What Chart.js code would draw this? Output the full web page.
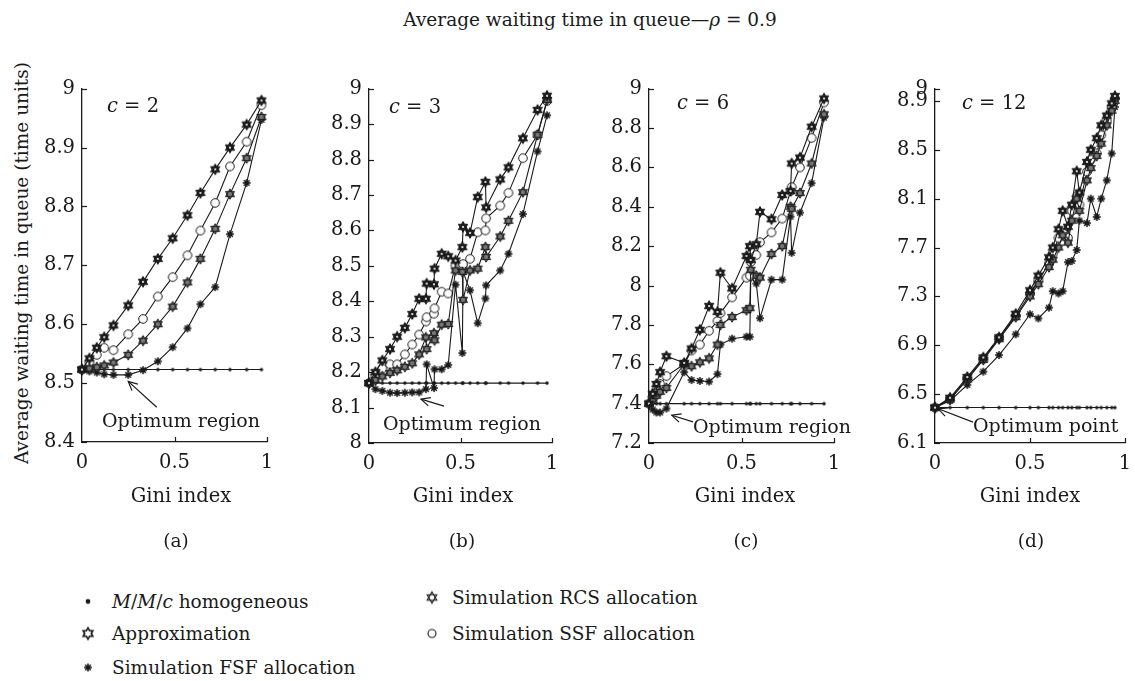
<!DOCTYPE html>
<html lang="en">
<head>
<meta charset="utf-8">
<title>Average waiting time in queue</title>
<script src="https://cdn.jsdelivr.net/npm/chart.js@4.4.1/dist/chart.umd.min.js"></script>
<style>
  html, body { margin: 0; padding: 0; background: #fff; }
  #page { position: relative; width: 1135px; height: 681px; overflow: hidden; font-family: 'DejaVu Serif', serif; color: #1a1a1a; }
  #page canvas.panel { position: absolute; }
  .txt { position: absolute; white-space: nowrap; line-height: 1; font-family: 'DejaVu Serif', serif; }
  .mid { transform: translate(-50%, -50%); }
  .lft { transform: translateY(-50%); }
  .ylab { position: absolute; left: 22px; top: 263px; transform: translate(-50%, -50%) rotate(-90deg); font-size: 18.5px; white-space: nowrap; line-height: 1; }
  .legend-row { position: absolute; display: flex; align-items: center; font-size: 18.5px; font-family: 'DejaVu Serif', serif; transform: translateY(-50%); white-space: nowrap; }
</style>
</head>
<body>
<div id="page">
  <div class="txt mid" style="left:590px; top:20px; font-size:18.5px;">Average waiting time in queue—<i>ρ</i> = 0.9</div>
  <div class="ylab">Average waiting time in queue (time units)</div>
</div>

<script>
// Axis ticks
const giniTicks = [0, 0.5, 1];
const ticksA = [8.4, 8.5, 8.6, 8.7, 8.8, 8.9, 9];
const ticksB = [8, 8.1, 8.2, 8.3, 8.4, 8.5, 8.6, 8.7, 8.8, 8.9, 9];
const ticksC = [7.2, 7.4, 7.6, 7.8, 8, 8.2, 8.4, 8.6, 8.8, 9];
const ticksD = [6.1, 6.5, 6.9, 7.3, 7.7, 8.1, 8.5, 8.9, 9];

// c = 2
const giniA   = [0, 0.04, 0.08, 0.12, 0.17, 0.25, 0.33, 0.41, 0.49, 0.57, 0.64, 0.72, 0.80, 0.89, 0.97];
const mmcA    = [8.523, 8.523, 8.523, 8.523, 8.523, 8.523, 8.523, 8.523, 8.523, 8.523, 8.523, 8.523, 8.523, 8.523, 8.523];
const approxA = [8.523, 8.542, 8.560, 8.578, 8.598, 8.632, 8.672, 8.711, 8.746, 8.785, 8.823, 8.863, 8.900, 8.939, 8.980];
const ssfA    = [8.523, 8.535, 8.548, 8.560, 8.556, 8.583, 8.609, 8.647, 8.680, 8.717, 8.759, 8.806, 8.868, 8.910, 8.972];
const rcsA    = [8.523, 8.525, 8.527, 8.530, 8.535, 8.548, 8.572, 8.600, 8.630, 8.671, 8.711, 8.762, 8.821, 8.882, 8.952];
const fsfA    = [8.523, 8.520, 8.518, 8.515, 8.514, 8.514, 8.522, 8.537, 8.561, 8.593, 8.634, 8.663, 8.753, 8.840, 8.947];

// c = 3
const giniB   = [0, 0.035, 0.073, 0.115, 0.154, 0.196, 0.236, 0.274, 0.311, 0.315, 0.355, 0.358, 0.397, 0.433, 0.473, 0.51, 0.514, 0.552, 0.594, 0.636, 0.64, 0.717, 0.762, 0.841, 0.921, 0.973];
const mmcB    = [8.169, 8.169, 8.169, 8.169, 8.169, 8.169, 8.169, 8.169, 8.169, 8.169, 8.169, 8.169, 8.169, 8.169, 8.169, 8.169, 8.169, 8.169, 8.169, 8.169, 8.169, 8.169, 8.169, 8.169, 8.169, 8.169];
const approxB = [8.169, 8.20, 8.233, 8.265, 8.30, 8.325, 8.364, 8.407, 8.407, 8.45, 8.448, 8.492, 8.534, 8.527, 8.515, 8.553, 8.61, 8.593, 8.694, 8.737, 8.665, 8.744, 8.778, 8.86, 8.94, 8.98];
const ssfB    = [8.169, 8.19, 8.21, 8.222, 8.222, 8.25, 8.278, 8.306, 8.343, 8.355, 8.365, 8.38, 8.427, 8.422, 8.501, 8.50, 8.505, 8.52, 8.595, 8.60, 8.634, 8.67, 8.706, 8.804, 8.87, 8.965];
const rcsB    = [8.169, 8.178, 8.188, 8.198, 8.205, 8.215, 8.225, 8.25, 8.298, 8.265, 8.31, 8.29, 8.334, 8.336, 8.487, 8.483, 8.404, 8.487, 8.492, 8.553, 8.525, 8.583, 8.627, 8.708, 8.87, 8.968];
const fsfB    = [8.169, 8.152, 8.147, 8.142, 8.141, 8.142, 8.143, 8.143, 8.152, 8.222, 8.155, 8.208, 8.208, 8.22, 8.447, 8.254, 8.483, 8.431, 8.338, 8.408, 8.445, 8.487, 8.534, 8.646, 8.823, 8.925];

// c = 6
const giniC   = [0, 0.02, 0.04, 0.06, 0.094, 0.19, 0.23, 0.275, 0.325, 0.37, 0.386, 0.449, 0.527, 0.545, 0.55, 0.58, 0.6, 0.662, 0.72, 0.765, 0.771, 0.816, 0.879, 0.946];
const mmcC    = [7.40, 7.40, 7.40, 7.40, 7.40, 7.40, 7.40, 7.40, 7.40, 7.40, 7.40, 7.40, 7.40, 7.40, 7.40, 7.40, 7.40, 7.40, 7.40, 7.40, 7.40, 7.40, 7.40, 7.40];
const approxC = [7.40, 7.45, 7.50, 7.56, 7.641, 7.607, 7.68, 7.775, 7.896, 7.866, 8.065, 7.985, 8.15, 8.20, 8.13, 8.21, 8.374, 8.337, 8.46, 8.48, 8.62, 8.65, 8.807, 8.95];
const ssfC    = [7.40, 7.43, 7.47, 7.50, 7.54, 7.60, 7.67, 7.70, 7.77, 7.82, 7.86, 7.94, 8.04, 8.05, 8.12, 8.155, 8.22, 8.27, 8.34, 8.48, 8.50, 8.60, 8.75, 8.93];
const rcsC    = [7.40, 7.42, 7.44, 7.46, 7.48, 7.60, 7.59, 7.61, 7.63, 7.70, 7.80, 7.84, 7.875, 7.885, 8.08, 8.05, 8.04, 8.16, 8.20, 8.40, 8.39, 8.47, 8.62, 8.87];
const fsfC    = [7.40, 7.37, 7.355, 7.355, 7.375, 7.56, 7.52, 7.515, 7.512, 7.55, 7.70, 7.73, 7.74, 7.74, 8.04, 8.01, 7.834, 8.03, 8.03, 8.35, 8.166, 8.37, 8.52, 8.853];

// c = 12
const giniD   = [0, 0.079, 0.17, 0.254, 0.337, 0.425, 0.5, 0.544, 0.6, 0.62, 0.65, 0.672, 0.70, 0.72, 0.746, 0.76, 0.80, 0.82, 0.851, 0.875, 0.904, 0.93, 0.947];
const mmcD    = [6.39, 6.39, 6.39, 6.39, 6.39, 6.39, 6.39, 6.39, 6.39, 6.39, 6.39, 6.39, 6.39, 6.39, 6.39, 6.39, 6.39, 6.39, 6.39, 6.39, 6.39, 6.39, 6.39];
const approxD = [6.39, 6.47, 6.64, 6.80, 6.965, 7.157, 7.35, 7.47, 7.62, 7.70, 7.85, 8.0, 7.87, 8.05, 8.324, 8.15, 8.40, 8.50, 8.595, 8.70, 8.78, 8.88, 8.94];
const ssfD    = [6.39, 6.46, 6.63, 6.79, 6.96, 7.14, 7.32, 7.43, 7.57, 7.65, 7.78, 7.82, 7.78, 8.0, 8.12, 8.05, 8.32, 8.42, 8.47, 8.62, 8.74, 8.85, 8.92];
const rcsD    = [6.39, 6.455, 6.62, 6.78, 6.95, 7.13, 7.30, 7.40, 7.54, 7.60, 7.70, 7.80, 7.74, 7.92, 8.10, 8.00, 8.25, 8.35, 8.45, 8.55, 8.70, 8.82, 8.90];
const fsfD    = [6.39, 6.446, 6.576, 6.684, 6.82, 6.99, 7.154, 7.12, 7.208, 7.343, 7.324, 7.343, 7.58, 7.59, 7.68, 7.92, 7.90, 8.10, 7.95, 8.10, 8.25, 8.47, 8.85];

const INK = '#1a1a1a';
const FONT = "'DejaVu Serif', serif";

// Marker glyphs drawn once on small canvases
function glyph(size, draw) {
    const c = document.createElement('canvas');
    c.width = size;
    c.height = size;
    const ctx = c.getContext('2d');
    ctx.translate(size / 2, size / 2);
    ctx.strokeStyle = INK;
    ctx.fillStyle = INK;
    draw(ctx);
    return c;
}

function starOutline(ctx, r) {
    const inner = r / Math.sqrt(3);
    ctx.beginPath();
    for (let i = 0; i < 12; i++) {
        const a = -Math.PI / 2 + i * Math.PI / 6;
        const rr = i % 2 === 0 ? r : inner;
        ctx.lineTo(rr * Math.cos(a), rr * Math.sin(a));
    }
    ctx.closePath();
}

function triangle(ctx, r, start) {
    ctx.beginPath();
    for (let i = 0; i < 3; i++) {
        const a = start + i * 2 * Math.PI / 3;
        ctx.lineTo(r * Math.cos(a), r * Math.sin(a));
    }
    ctx.closePath();
}

// plot markers: small and dark; legend markers: outlined
const markers = {
    approx: glyph(14, ctx => {
        starOutline(ctx, 5.4);
        ctx.fill();
        ctx.lineWidth = 1;
        ctx.stroke();
        ctx.beginPath();
        ctx.arc(0, 0, 1.1, 0, Math.PI * 2);
        ctx.fillStyle = '#fff';
        ctx.fill();
    }),
    rcs: glyph(14, ctx => {
        ctx.lineWidth = 1;
        starOutline(ctx, 5.2);
        ctx.fillStyle = '#777';
        ctx.fill();
        triangle(ctx, 5.2, -Math.PI / 2);
        ctx.stroke();
        triangle(ctx, 5.2, Math.PI / 2);
        ctx.stroke();
    }),
    fsf: glyph(12, ctx => {
        ctx.lineWidth = 1.5;
        for (let i = 0; i < 4; i++) {
            const a = i * Math.PI / 4;
            ctx.beginPath();
            ctx.moveTo(-4 * Math.cos(a), -4 * Math.sin(a));
            ctx.lineTo(4 * Math.cos(a), 4 * Math.sin(a));
            ctx.stroke();
        }
        ctx.beginPath();
        ctx.arc(0, 0, 2.3, 0, Math.PI * 2);
        ctx.fill();
    }),
    ssf: glyph(12, ctx => {
        ctx.lineWidth = 1;
        ctx.beginPath();
        ctx.arc(0, 0, 4.3, 0, Math.PI * 2);
        ctx.fillStyle = '#fff';
        ctx.fill();
        ctx.stroke();
    }),
    mmc: glyph(6, ctx => {
        ctx.beginPath();
        ctx.arc(0, 0, 1.7, 0, Math.PI * 2);
        ctx.fill();
    })
};

const legendMarkers = {
    mmc: glyph(8, ctx => {
        ctx.beginPath();
        ctx.arc(0, 0, 2.4, 0, Math.PI * 2);
        ctx.fill();
    }),
    approx: glyph(14, ctx => {
        ctx.lineWidth = 1.6;
        starOutline(ctx, 5.6);
        ctx.fillStyle = '#fff';
        ctx.fill();
        ctx.stroke();
    }),
    fsf: markers.fsf,
    rcs: glyph(14, ctx => {
        ctx.lineWidth = 1.1;
        starOutline(ctx, 5.6);
        ctx.fillStyle = '#fff';
        ctx.fill();
        triangle(ctx, 5.6, -Math.PI / 2);
        ctx.stroke();
        triangle(ctx, 5.6, Math.PI / 2);
        ctx.stroke();
    }),
    ssf: glyph(12, ctx => {
        ctx.lineWidth = 1.1;
        ctx.beginPath();
        ctx.arc(0, 0, 4, 0, Math.PI * 2);
        ctx.stroke();
    })
};

// Small inward tick marks on both axes
const innerTicks = {
    id: 'innerTicks',
    afterDraw(chart) {
        const { ctx, chartArea, scales } = chart;
        ctx.save();
        ctx.strokeStyle = INK;
        ctx.lineWidth = 1.2;
        scales.y.ticks.forEach(t => {
            const py = Math.round(scales.y.getPixelForValue(t.value)) + 0.5;
            ctx.beginPath();
            ctx.moveTo(chartArea.left, py);
            ctx.lineTo(chartArea.left + 5, py);
            ctx.stroke();
        });
        scales.x.ticks.forEach(t => {
            if (t.value === 0) return;
            const px = Math.round(scales.x.getPixelForValue(t.value)) + 0.5;
            ctx.beginPath();
            ctx.moveTo(px, chartArea.bottom);
            ctx.lineTo(px, chartArea.bottom - 5);
            ctx.stroke();
        });
        ctx.restore();
    }
};

// Arrow pointing at the optimum, given in data units
const pointer = {
    id: 'pointer',
    afterDatasetsDraw(chart, args, opts) {
        if (!opts.head) return;
        const { ctx, scales } = chart;
        const hx = scales.x.getPixelForValue(opts.head[0]);
        const hy = scales.y.getPixelForValue(opts.head[1]);
        const tx = scales.x.getPixelForValue(opts.tail[0]);
        const ty = scales.y.getPixelForValue(opts.tail[1]);
        const ang = Math.atan2(ty - hy, tx - hx);
        ctx.save();
        ctx.strokeStyle = INK;
        ctx.lineWidth = 1.2;
        ctx.beginPath();
        ctx.moveTo(tx, ty);
        ctx.lineTo(hx, hy);
        ctx.stroke();
        ctx.beginPath();
        ctx.moveTo(hx + 10 * Math.cos(ang - 0.45), hy + 10 * Math.sin(ang - 0.45));
        ctx.lineTo(hx, hy);
        ctx.lineTo(hx + 10 * Math.cos(ang + 0.45), hy + 10 * Math.sin(ang + 0.45));
        ctx.stroke();
        ctx.restore();
    }
};

function series(gini, values, marker) {
    return {
        data: gini.map((g, i) => ({ x: g, y: values[i] })),
        showLine: true,
        borderColor: INK,
        borderWidth: 1.1,
        pointStyle: marker,
        pointRadius: 4,
        pointHoverRadius: 4,
        tension: 0
    };
}

const panels = [
    { tag: 'a', c: 2,  left: 82,  right: 267,  bottom: 442, gini: giniA, mmc: mmcA, approx: approxA, ssf: ssfA, rcs: rcsA, fsf: fsfA,
      yTicks: ticksA, head: [0.25, 8.503], tail: [0.404, 8.459], note: 'Optimum region', noteAt: [102, 420], cAt: [107, 106], giniX: 181, tagX: 176 },
    { tag: 'b', c: 3,  left: 369, right: 552,  bottom: 443, gini: giniB, mmc: mmcB, approx: approxB, ssf: ssfB, rcs: rcsB, fsf: fsfB,
      yTicks: ticksB, head: [0.284, 8.124], tail: [0.41, 8.104], note: 'Optimum region', noteAt: [383, 423], cAt: [389, 107], giniX: 463, tagX: 462 },
    { tag: 'c', c: 6,  left: 649, right: 834,  bottom: 443, gini: giniC, mmc: mmcC, approx: approxC, ssf: ssfC, rcs: rcsC, fsf: fsfC,
      yTicks: ticksC, head: [0.123, 7.341], tail: [0.238, 7.307], note: 'Optimum region', noteAt: [693, 426], cAt: [677, 103], giniX: 745, tagX: 746 },
    { tag: 'd', c: 12, left: 935, right: 1125, bottom: 443, gini: giniD, mmc: mmcD, approx: approxD, ssf: ssfD, rcs: rcsD, fsf: fsfD,
      yTicks: ticksD, head: [0.017, 6.38], tail: [0.2, 6.271], note: 'Optimum point', noteAt: [973, 425], cAt: [962, 103], giniX: 1030, tagX: 1031 }
];

const page = document.getElementById('page');

function addText(html, x, y, size, cls) {
    const d = document.createElement('div');
    d.className = 'txt ' + cls;
    d.style.left = x + 'px';
    d.style.top = y + 'px';
    d.style.fontSize = size + 'px';
    d.innerHTML = html;
    page.appendChild(d);
}

function makePanel(p) {
    const padL = 60, padR = 22, padT = 15, padB = 42;
    const top = 85;
    const cv = document.createElement('canvas');
    cv.className = 'panel';
    cv.width = p.right - p.left + padL + padR;
    cv.height = p.bottom - top + padT + padB;
    cv.style.left = (p.left - padL) + 'px';
    cv.style.top = (top - padT) + 'px';
    page.appendChild(cv);

    const tickFont = { family: FONT, size: 19.5 };

    new Chart(cv, {
        type: 'scatter',
        data: {
            datasets: [
                series(p.gini, p.approx, markers.approx),
                series(p.gini, p.rcs, markers.rcs),
                series(p.gini, p.ssf, markers.ssf),
                series(p.gini, p.fsf, markers.fsf),
                series(p.gini, p.mmc, markers.mmc)
            ]
        },
        options: {
            responsive: false,
            animation: false,
            clip: false,
            events: [],
            layout: { padding: { left: 0, right: padR, top: padT, bottom: 0 } },
            plugins: {
                legend: { display: false },
                tooltip: { enabled: false },
                pointer: { head: p.head, tail: p.tail }
            },
            scales: {
                x: {
                    type: 'linear',
                    min: 0,
                    max: 1,
                    afterBuildTicks: s => { s.ticks = giniTicks.map(v => ({ value: v })); },
                    afterFit: s => { s.height = padB; },
                    grid: { display: false, drawTicks: false },
                    border: { color: INK, width: 1.3 },
                    ticks: { padding: 9, font: tickFont, color: INK, maxRotation: 0, autoSkip: false, callback: v => String(v) }
                },
                y: {
                    type: 'linear',
                    min: p.yTicks[0],
                    max: p.yTicks[p.yTicks.length - 1],
                    afterBuildTicks: s => { s.ticks = p.yTicks.map(v => ({ value: v })); },
                    afterFit: s => { s.width = padL; },
                    grid: { display: false, drawTicks: false },
                    border: { color: INK, width: 1.3 },
                    ticks: { padding: 7, font: tickFont, color: INK, autoSkip: false, callback: v => String(v) }
                }
            }
        },
        plugins: [innerTicks, pointer]
    });

    addText('<i>c</i> = ' + p.c, p.cAt[0], p.cAt[1], 19.5, 'lft');
    addText(p.note, p.noteAt[0], p.noteAt[1], 19, 'lft');
    addText('Gini index', p.giniX, 496, 19.5, 'mid');
    addText('(' + p.tag + ')', p.tagX, 541, 18.5, 'mid');
}

panels.forEach(makePanel);

// Legend in two columns under the panels
const legendItems = [
    { marker: legendMarkers.mmc,    label: '<i>M</i>/<i>M</i>/<i>c</i> homogeneous', x: 88,  y: 601, gap: 16 },
    { marker: legendMarkers.approx, label: 'Approximation',                           x: 88,  y: 633, gap: 16 },
    { marker: legendMarkers.fsf,    label: 'Simulation FSF allocation',               x: 88,  y: 667, gap: 16 },
    { marker: legendMarkers.rcs,    label: 'Simulation RCS allocation',               x: 432, y: 597, gap: 12 },
    { marker: legendMarkers.ssf,    label: 'Simulation SSF allocation',               x: 432, y: 633, gap: 12 }
];

legendItems.forEach(item => {
    const row = document.createElement('div');
    row.className = 'legend-row';
    const box = document.createElement('canvas');
    box.width = 16;
    box.height = 16;
    box.getContext('2d').drawImage(item.marker, (16 - item.marker.width) / 2, (16 - item.marker.height) / 2);
    row.style.left = (item.x - 8) + 'px';
    row.style.top = item.y + 'px';
    const span = document.createElement('span');
    span.style.marginLeft = item.gap + 'px';
    span.innerHTML = item.label;
    row.appendChild(box);
    row.appendChild(span);
    page.appendChild(row);
});
</script>
</body>
</html>
